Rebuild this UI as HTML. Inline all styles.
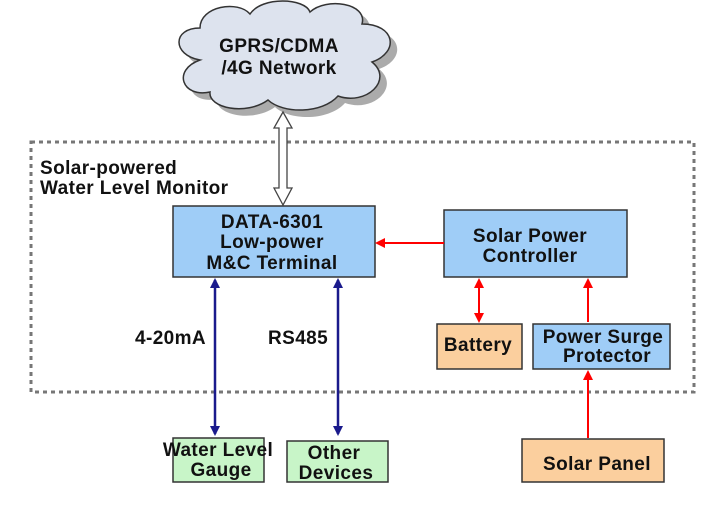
<!DOCTYPE html>
<html><head><style>
body{margin:0;background:#fff;}
svg text{font-family:"Liberation Sans",Arial,sans-serif;font-weight:bold;fill:#111;font-size:19px;letter-spacing:0.4px;}
</style></head><body>
<svg width="720" height="518" viewBox="0 0 720 518" xmlns="http://www.w3.org/2000/svg">
<defs>
<marker id="rh" markerWidth="10" markerHeight="10" refX="8" refY="5" orient="auto-start-reverse" markerUnits="userSpaceOnUse"><path d="M0,0 L10,5 L0,10 z" fill="#f00"/></marker>
<marker id="bh" markerWidth="10" markerHeight="10" refX="8" refY="5" orient="auto-start-reverse" markerUnits="userSpaceOnUse"><path d="M0,0 L10,5 L0,10 z" fill="#1a1a8c"/></marker>
</defs>
<rect x="31" y="142" width="663" height="250" fill="none" stroke="#777" stroke-width="3" stroke-dasharray="4,4"/>
<text x="40" y="174">Solar-powered</text>
<text x="40" y="194">Water Level Monitor</text>
<!-- cloud -->
<g transform="translate(7,7)" fill="#888" opacity="0.7">
<path d="M200,60 C172,55 172,28 200,28 C200,6 238,0 250,14 C262,-4 305,-2 310,12 C326,-3 368,3 362,24 C395,24 400,52 372,62 C394,80 366,106 338,96 C322,114 283,114 268,100 C246,116 208,108 210,92 C182,98 172,70 200,60 Z"/>
</g>
<path d="M200,60 C172,55 172,28 200,28 C200,6 238,0 250,14 C262,-4 305,-2 310,12 C326,-3 368,3 362,24 C395,24 400,52 372,62 C394,80 366,106 338,96 C322,114 283,114 268,100 C246,116 208,108 210,92 C182,98 172,70 200,60 Z" fill="#dde3ee" stroke="#333" stroke-width="1.5"/>
<text x="279" y="52" text-anchor="middle">GPRS/CDMA</text>
<text x="279" y="74" text-anchor="middle">/4G Network</text>
<!-- hollow double arrow -->
<path d="M283,112 L292,128 L287,128 L287,188 L292,188 L283,205 L274,188 L279,188 L279,128 L274,128 Z" fill="#fff" stroke="#444" stroke-width="1.3"/>
<!-- boxes -->
<rect x="173" y="206" width="202" height="71" fill="#9fcdf7" stroke="#333" stroke-width="1.5"/>
<text x="272" y="228" text-anchor="middle">DATA-6301</text>
<text x="272" y="248" text-anchor="middle">Low-power</text>
<text x="272" y="269" text-anchor="middle">M&amp;C Terminal</text>
<rect x="444" y="210" width="183" height="67" fill="#9fcdf7" stroke="#333" stroke-width="1.5"/>
<text x="530" y="242" text-anchor="middle">Solar Power</text>
<text x="530" y="262" text-anchor="middle">Controller</text>
<rect x="437" y="324" width="85" height="45" fill="#fbcf9e" stroke="#333" stroke-width="1.5"/>
<text x="478" y="351" text-anchor="middle">Battery</text>
<rect x="533" y="324" width="137" height="45" fill="#9fcdf7" stroke="#333" stroke-width="1.5"/>
<text x="603" y="343" text-anchor="middle">Power Surge</text>
<text x="607" y="362" text-anchor="middle">Protector</text>
<rect x="522" y="439" width="142" height="43" fill="#fbcf9e" stroke="#333" stroke-width="1.5"/>
<text x="597" y="470" text-anchor="middle">Solar Panel</text>
<rect x="173" y="438" width="91" height="44" fill="#c8f5c8" stroke="#333" stroke-width="1.5"/>
<text x="218" y="456" text-anchor="middle">Water Level</text>
<text x="221" y="476" text-anchor="middle">Gauge</text>
<rect x="287" y="441" width="101" height="41" fill="#c8f5c8" stroke="#333" stroke-width="1.5"/>
<text x="334" y="459" text-anchor="middle">Other</text>
<text x="336" y="479" text-anchor="middle">Devices</text>
<!-- connectors -->
<line x1="444" y1="243" x2="377" y2="243" stroke="#f00" stroke-width="2" marker-end="url(#rh)"/>
<line x1="479" y1="280" x2="479" y2="321" stroke="#f00" stroke-width="2" marker-start="url(#rh)" marker-end="url(#rh)"/>
<line x1="588" y1="322" x2="588" y2="280" stroke="#f00" stroke-width="2" marker-end="url(#rh)"/>
<line x1="588" y1="438" x2="588" y2="372" stroke="#f00" stroke-width="2" marker-end="url(#rh)"/>
<line x1="215" y1="280" x2="215" y2="434" stroke="#1a1a8c" stroke-width="2.5" marker-start="url(#bh)" marker-end="url(#bh)"/>
<line x1="338" y1="280" x2="338" y2="434" stroke="#1a1a8c" stroke-width="2.5" marker-start="url(#bh)" marker-end="url(#bh)"/>
<text x="135" y="344">4-20mA</text>
<text x="268" y="344">RS485</text>
</svg>
</body></html>
